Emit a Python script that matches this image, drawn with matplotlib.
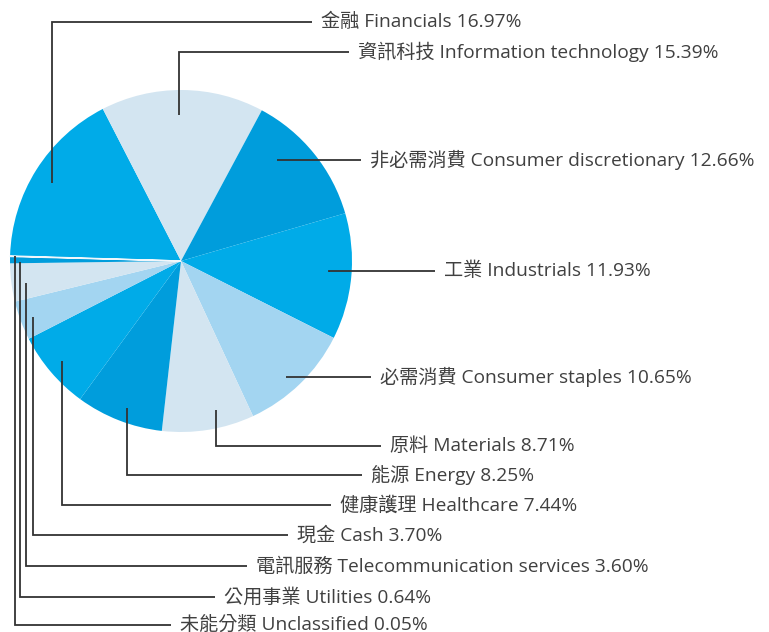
import numpy as np
import matplotlib
matplotlib.use("Agg")
import matplotlib.pyplot as plt

# sector weights (%)
labels_zh = ["金融", "資訊科技", "非必需消費", "工業", "必需消費", "原料",
             "能源", "健康護理", "現金", "電訊服務", "公用事業", "未能分類"]
labels_en = ["Financials", "Information technology", "Consumer discretionary",
             "Industrials", "Consumer staples", "Materials", "Energy",
             "Healthcare", "Cash", "Telecommunication services", "Utilities",
             "Unclassified"]
weights = [16.97, 15.39, 12.66, 11.93, 10.65, 8.71, 8.25, 7.44, 3.70, 3.60, 0.64, 0.05]

bright = "#00ABE8"
medium = "#009DDC"
pale = "#D3E5F1"
light = "#A3D5F1"
colors = [bright, pale, medium, bright, light, pale, medium, bright, light, pale, medium, "#F2F7FB"]

# layout (pixels, from top-left)
W, H = 769, 632
cx, cy, R = 181, 261, 171
# where the leader starts inside each wedge: fraction along the wedge, fraction of radius
anchor_frac = [0.48, 0.48, 0.34, 0.475, 0.55, 0.37, 0.46, 0.51, 0.48, 0.44, 0.2, 0.5]
anchor_rad = [0.88, 0.855, 0.815, 0.87, 0.915, 0.895, 0.916, 0.91, 0.925, 0.915, 0.94, 0.97]
label_y = [22, 52, 160, 271, 377, 446, 475, 505, 535, 566, 597, 625]
text_x = [321, 358, 370, 444, 380, 390, 371, 340, 297, 256, 224, 180]

fig = plt.figure(figsize=(W / 100, H / 100), dpi=100)
ax = fig.add_axes([0, 0, 1, 1])

wedges, _ = ax.pie(weights, colors=colors, startangle=178.3, counterclock=False,
                   center=(cx, H - cy), radius=R, frame=True,
                   wedgeprops=dict(linewidth=0))
wedges[-1].set_edgecolor("#F2F7FB")
wedges[-1].set_linewidth(1.0)

line_col = "#333333"
for i, w in enumerate(wedges):
    t1, t2 = w.theta1, w.theta2
    # counterclock=False -> theta2 is the start going clockwise
    ang = np.deg2rad(t2 - anchor_frac[i] * (t2 - t1))
    ax_x = cx + anchor_rad[i] * R * np.cos(ang)
    ax_y = (H - cy) + anchor_rad[i] * R * np.sin(ang)
    ly = H - label_y[i]
    end_x = text_x[i] - 9
    ax.plot([ax_x, ax_x, end_x], [ax_y, ly, ly], color=line_col, lw=1.3,
            solid_capstyle="butt", solid_joinstyle="miter")
    ax.text(text_x[i], ly, f"{labels_zh[i]} {labels_en[i]} {weights[i]:.2f}%",
            ha="left", va="center", fontsize=13.8, color="#404040",
            family=["Open Sans", "Noto Sans CJK TC", "DejaVu Sans"])

ax.set_xlim(0, W)
ax.set_ylim(0, H)
ax.set_aspect("equal")
ax.axis("off")

fig.savefig("out.png", dpi=100)
